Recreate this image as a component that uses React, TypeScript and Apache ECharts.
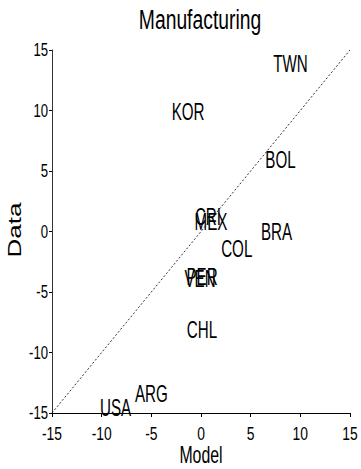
import React, { useEffect, useRef } from "react";
import * as echarts from "echarts";

const countries = ["TWN", "KOR", "BOL", "CRI", "MEX", "BRA", "COL", "PER", "VEN", "CHL", "ARG", "USA"];
const modelValues = [9.0, -1.3, 8.0, 0.7, 1.0, 7.6, 3.6, 0.1, -0.1, 0.1, -5.0, -8.6];
const dataValues = [13.9, 9.9, 5.9, 1.2, 0.8, 0.0, -1.4, -3.7, -3.9, -8.1, -13.4, -14.6];
const diagonal = [[-15, -15], [15, 15]];
const tickValues = [-15, -10, -5, 0, 5, 10, 15];
const tickLabels = ["-15", "-10", "-5", "0", "5", "10", "15"];
const axisMin = -15;
const axisMax = 15;
const tickStep = 5;

const FONT = "'Liberation Sans', Arial, Helvetica, sans-serif";

export default function App() {
  const ref = useRef<HTMLDivElement>(null);
  useEffect(() => {
    if (!ref.current) return;
    const chart = echarts.init(ref.current, null, { renderer: "svg" });
    chart.setOption({
      animation: false,
      backgroundColor: "#fff",
      grid: { left: 52, right: 11, top: 50, bottom: 56 },
      xAxis: {
        type: "value",
        min: axisMin,
        max: axisMax,
        interval: tickStep,
        axisLine: { show: true, onZero: false, lineStyle: { color: "#000", width: 1 } },
        axisTick: { show: true, length: 4, lineStyle: { color: "#000" } },
        axisLabel: { show: false },
        splitLine: { show: false },
      },
      yAxis: {
        type: "value",
        min: axisMin,
        max: axisMax,
        interval: tickStep,
        axisLine: { show: true, onZero: false, lineStyle: { color: "#333", width: 1 } },
        axisTick: { show: true, length: 3, lineStyle: { color: "#000" } },
        axisLabel: { show: false },
        splitLine: { show: false },
      },
      graphic: [
        {
          type: "text",
          x: 200,
          y: 19,
          scaleX: 0.69,
          style: {
            text: "Manufacturing",
            fontFamily: FONT,
            fontSize: 28,
            fill: "#000",
            align: "center",
            verticalAlign: "middle",
          },
        },
        {
          type: "text",
          x: 201,
          y: 455,
          scaleX: 0.69,
          style: {
            text: "Model",
            fontFamily: FONT,
            fontSize: 23,
            fill: "#000",
            align: "center",
            verticalAlign: "middle",
          },
        },
        {
          type: "text",
          x: 15,
          y: 230,
          rotation: Math.PI / 2,
          scaleY: 0.69,
          style: {
            text: "Data",
            fontFamily: FONT,
            fontSize: 26,
            fill: "#000",
            align: "center",
            verticalAlign: "middle",
          },
        },
      ],
      series: [
        {
          type: "line",
          data: diagonal,
          symbol: "none",
          lineStyle: { color: "#000", width: 0.8, type: [2, 2] },
          silent: true,
        },
        {
          type: "custom",
          data: countries.map((c, i) => [modelValues[i], dataValues[i]]),
          renderItem: (params: any, api: any) => {
            const pt = api.coord([api.value(0), api.value(1)]);
            return {
              type: "text",
              x: pt[0],
              y: pt[1],
              scaleX: 0.66,
              style: {
                text: countries[params.dataIndex],
                fontFamily: FONT,
                fontSize: 23,
                fill: "#000",
                align: "center",
                verticalAlign: "middle",
              },
            };
          },
        },
        {
          type: "custom",
          data: tickValues.map((t) => [t, axisMin]),
          renderItem: (params: any, api: any) => {
            const pt = api.coord([api.value(0), api.value(1)]);
            return {
              type: "text",
              x: pt[0],
              y: pt[1] + 21,
              scaleX: 0.73,
              style: {
                text: tickLabels[params.dataIndex],
                fontFamily: FONT,
                fontSize: 19,
                fill: "#000",
                align: "center",
                verticalAlign: "middle",
              },
            };
          },
        },
        {
          type: "custom",
          data: tickValues.map((t) => [axisMin, t]),
          renderItem: (params: any, api: any) => {
            const pt = api.coord([api.value(0), api.value(1)]);
            return {
              type: "text",
              x: pt[0] - 4,
              y: pt[1],
              scaleX: 0.73,
              style: {
                text: tickLabels[params.dataIndex],
                fontFamily: FONT,
                fontSize: 18,
                fill: "#000",
                align: "right",
                verticalAlign: "middle",
              },
            };
          },
        },
      ],
    });
    return () => chart.dispose();
  }, []);
  return <div ref={ref} style={{ width: 361, height: 469, position: "absolute", left: 0, top: 0 }} />;
}
